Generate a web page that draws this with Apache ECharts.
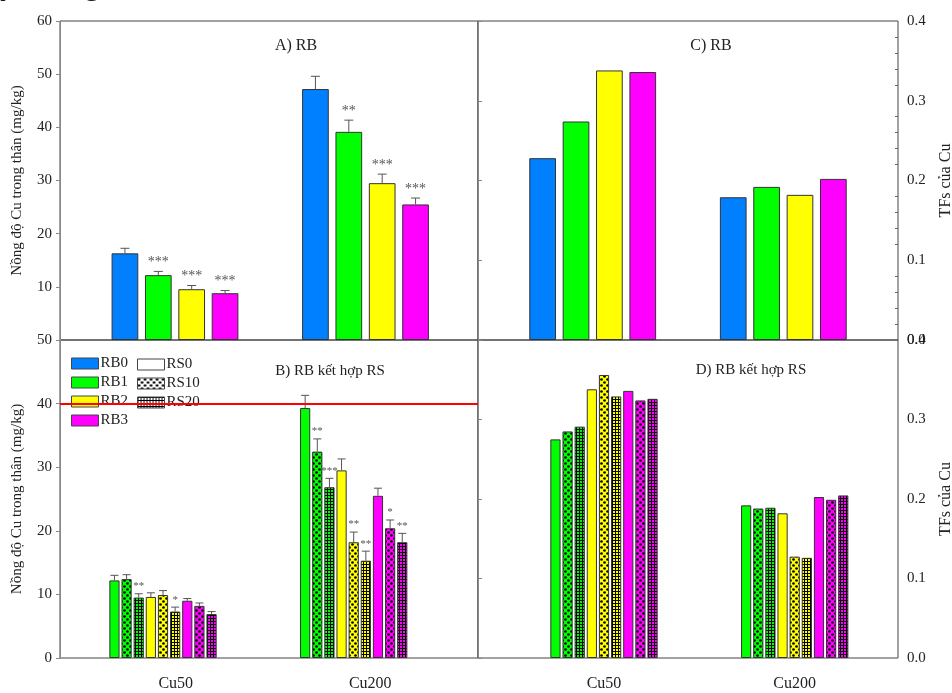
<!DOCTYPE html>
<html>
<head>
<meta charset="utf-8">
<script src="https://cdn.jsdelivr.net/npm/echarts@6/dist/echarts.min.js"></script>
<style>
  html, body { margin: 0; padding: 0; background: #fff; }
  #chart { width: 952px; height: 693px; }
</style>
</head>
<body>
<div id="chart"></div>
<script>
// ---- data ----
const groups = ['Cu50', 'Cu200'];
const rbNames = ['RB0', 'RB1', 'RB2', 'RB3'];
const rsNames = ['RS0', 'RS10', 'RS20'];

// A) Cu in shoots (mg/kg), biochar only: RB0..RB3
const aCu50 = [16.3, 12.2, 9.55, 8.8];
const aCu200 = [47.2, 39.15, 29.5, 25.5];
const aCu50Err = [0.95, 0.7, 0.7, 0.5];
const aCu200Err = [2.4, 2.2, 1.7, 1.2];
const aCu50Sig = ['', '***', '***', '***'];
const aCu200Sig = ['', '**', '***', '***'];

// B) Cu in shoots (mg/kg), RB1..RB3 x RS0/RS10/RS20
const bCu50 = [12.2, 12.4, 9.5, 9.6, 9.9, 7.3, 9.0, 8.2, 6.9];
const bCu200 = [39.3, 32.45, 26.85, 29.5, 18.2, 15.3, 25.5, 20.4, 18.2];
const bCu50Err = [0.8, 0.7, 0.6, 0.65, 0.7, 0.7, 0.35, 0.45, 0.4];
const bCu200Err = [2.0, 2.0, 1.4, 1.8, 1.6, 1.5, 1.2, 1.3, 1.4];
const bCu50Sig = ['', '', '**', '', '', '*', '', '', ''];
const bCu200Sig = ['', '**', '***', '', '**', '**', '', '*', '**'];

// C) translocation factor, biochar only
const cCu50 = [0.228, 0.274, 0.338, 0.336];
const cCu200 = [0.179, 0.192, 0.182, 0.202];

// D) translocation factor, biochar + RS
const dCu50 = [0.275, 0.285, 0.291, 0.338, 0.356, 0.329, 0.336, 0.324, 0.326];
const dCu200 = [0.192, 0.188, 0.189, 0.182, 0.1275, 0.126, 0.2025, 0.199, 0.2045];

// Reference level drawn across panel B
const refLevel = 40;

// ---- styles ----
const FONT = 'Liberation Serif';
const rbColors = ['#0080ff', '#00ff00', '#ffff00', '#ff00ff'];
const edge = '#333';

function dotPattern(base) {
  const cv = document.createElement('canvas');
  cv.width = 6; cv.height = 6;
  const g = cv.getContext('2d');
  g.fillStyle = base; g.fillRect(0, 0, 6, 6);
  g.fillStyle = '#000';
  [[1.5, 1.5], [4.5, 4.5]].forEach(function (p) {
    g.beginPath(); g.arc(p[0], p[1], 1.35, 0, Math.PI * 2); g.fill();
  });
  return { image: cv, repeat: 'repeat' };
}
function gridPattern(base) {
  const cv = document.createElement('canvas');
  cv.width = 3; cv.height = 3;
  const g = cv.getContext('2d');
  g.fillStyle = '#000'; g.fillRect(0, 0, 3, 3);
  g.fillStyle = base; g.fillRect(1, 1, 2, 2);
  return { image: cv, repeat: 'repeat' };
}
function rsFill(base, k) {
  return k === 0 ? base : (k === 1 ? dotPattern(base) : gridPattern(base));
}

// ---- layout (pixels) ----
const frames = [
  { left: 60, top: 21, width: 418, height: 319 },   // A
  { left: 478, top: 21, width: 420, height: 319 },  // C
  { left: 60, top: 340, width: 418, height: 318 },  // B
  { left: 478, top: 340, width: 420, height: 318 }  // D
];
const dataGrids = [
  { left: 79.75, top: 21, width: 381, height: 319 },    // A bars
  { left: 497.4, top: 21, width: 381.2, height: 319 },  // C bars
  { left: 67.65, top: 340, width: 381.4, height: 318 }, // B bars
  { left: 508.65, top: 340, width: 381.4, height: 318 } // D bars
];
const labelGridB = { left: 78.5, top: 340, width: 389, height: 318 };

const wideBar = 26.7, wideGap = 0.25;
const thinBar = 10.2, thinGap = 0.19;

const grid = frames.concat(dataGrids, [labelGridB]).map(function (r) {
  return Object.assign({ outerBoundsMode: 'none', containLabel: false }, r);
});
frames.forEach(function (r, i) {
  Object.assign(grid[i], { show: true, borderColor: '#444', borderWidth: 1, backgroundColor: 'transparent' });
});

const axisFont = { fontFamily: FONT, fontSize: 15, color: '#222' };
const axisGrey = { lineStyle: { color: '#888', width: 1 } };

const xAxis = grid.map(function (g, i) {
  if (i < 4) return { type: 'value', gridIndex: i, min: 0, max: 1, show: false };
  const ax = {
    type: 'category', gridIndex: i, data: groups, boundaryGap: true,
    axisLine: { show: false }, axisTick: { show: false }, splitLine: { show: false },
    axisLabel: { show: false }
  };
  if (i === 7 || i === 8) {
    ax.axisLabel = { show: true, margin: 18, fontFamily: FONT, fontSize: 16, color: '#222' };
  }
  return ax;
});

const shootName = 'Nồng độ Cu trong thân (mg/kg)';
const tfName = 'TFs của Cu';
function leftAxis(gi, max, hideZero) {
  return {
    type: 'value', gridIndex: gi, position: 'left', min: 0, max: max, interval: 10,
    axisLine: Object.assign({ show: true }, axisGrey),
    axisTick: Object.assign({ show: true, length: 4, inside: false }, axisGrey),
    splitLine: { show: false },
    axisLabel: Object.assign({ margin: 8, formatter: function (v) { return hideZero && v === 0 ? '' : String(v); } }, axisFont),
    name: shootName, nameLocation: 'middle', nameRotate: 90, nameGap: 35, nameMoveOverlap: false,
    nameTextStyle: { fontFamily: FONT, fontSize: 15, color: '#222' }
  };
}
function rightAxis(gi) {
  return {
    type: 'value', gridIndex: gi, position: 'right', min: 0, max: 0.4, interval: 0.1,
    axisLine: Object.assign({ show: true }, axisGrey),
    axisTick: Object.assign({ show: true, length: 4, inside: false }, axisGrey),
    splitLine: { show: false },
    axisLabel: Object.assign({ margin: 9, formatter: function (v) { return v.toFixed(1); } }, axisFont),
    name: tfName, nameLocation: 'middle', nameRotate: 90, nameGap: 40, nameMoveOverlap: false,
    nameTextStyle: { fontFamily: FONT, fontSize: 16, color: '#222' }
  };
}
const yAxis = [
  leftAxis(0, 60, true),
  rightAxis(1),
  leftAxis(2, 50, false),
  rightAxis(3),
  { type: 'value', gridIndex: 4, min: 0, max: 60, show: false },
  { type: 'value', gridIndex: 5, min: 0, max: 0.4, show: false },
  { type: 'value', gridIndex: 6, min: 0, max: 50, show: false },
  { type: 'value', gridIndex: 7, min: 0, max: 0.4, show: false },
  { type: 'value', gridIndex: 8, min: 0, max: 1, show: false },
  // inner minor ticks on the right axis of panel C
  {
    type: 'value', gridIndex: 1, position: 'right', min: 0, max: 0.4, interval: 0.1,
    axisLine: { show: false }, axisLabel: { show: false }, splitLine: { show: false },
    axisTick: { show: false, inside: true },
    minorTick: { show: true, splitNumber: 5, length: 3, lineStyle: { color: '#666' } }
  }
];

const series = [];
const barBorder = { borderColor: edge, borderWidth: 1 };

// Panel A bars
rbNames.forEach(function (n, i) {
  series.push({
    type: 'bar', name: n, xAxisIndex: 4, yAxisIndex: 4,
    data: [aCu50[i], aCu200[i]], barWidth: wideBar, barGap: (wideGap * 100) + '%',
    itemStyle: Object.assign({ color: rbColors[i] }, barBorder), silent: true
  });
});
// Panel C bars
rbNames.forEach(function (n, i) {
  series.push({
    type: 'bar', name: 'TF ' + n, xAxisIndex: 5, yAxisIndex: 5,
    data: [cCu50[i], cCu200[i]], barWidth: wideBar, barGap: (wideGap * 100) + '%',
    itemStyle: Object.assign({ color: rbColors[i] }, barBorder), silent: true
  });
});
// Panels B and D bars: RB1..RB3 each with RS0, RS10, RS20
for (let r = 1; r <= 3; r++) {
  for (let k = 0; k < 3; k++) {
    const idx = (r - 1) * 3 + k;
    const label = rbNames[r] + ' ' + rsNames[k];
    series.push({
      type: 'bar', name: 'Cu ' + label, xAxisIndex: 6, yAxisIndex: 6,
      data: [bCu50[idx], bCu200[idx]], barWidth: thinBar, barGap: (thinGap * 100) + '%',
      itemStyle: Object.assign({ color: rsFill(rbColors[r], k) }, barBorder), silent: true
    });
    series.push({
      type: 'bar', name: 'TF ' + label, xAxisIndex: 7, yAxisIndex: 7,
      data: [dCu50[idx], dCu200[idx]], barWidth: thinBar, barGap: (thinGap * 100) + '%',
      itemStyle: Object.assign({ color: rsFill(rbColors[r], k) }, barBorder), silent: true
    });
  }
}

// Error bars with significance marks
function errorSeries(xi, yi, means, errs, sigs, n, w, gap, capW, sigFont) {
  const data = [];
  means.forEach(function (arr, c) {
    arr.forEach(function (v, s) { data.push([c, s, v, errs[c][s]]); });
  });
  return {
    type: 'custom', xAxisIndex: xi, yAxisIndex: yi, silent: true, z: 3,
    encode: { x: 0, y: 2 },
    data: data,
    renderItem: function (params, api) {
      const c = api.value(0), s = api.value(1), top = api.value(2), e = api.value(3);
      const step = w * (1 + gap);
      const total = n * w + (n - 1) * w * gap;
      const x = api.coord([c, 0])[0] - total / 2 + s * step + w / 2;
      const y0 = api.coord([c, top])[1];
      const y1 = api.coord([c, top + e])[1];
      const st = { stroke: '#555', lineWidth: 1 };
      const kids = [
        { type: 'line', shape: { x1: x, y1: y0, x2: x, y2: y1 }, style: st },
        { type: 'line', shape: { x1: x - capW / 2, y1: y1, x2: x + capW / 2, y2: y1 }, style: st }
      ];
      const sig = sigs[c][s];
      if (sig) {
        kids.push({
          type: 'text',
          style: { text: sig, x: x, y: y1 - 2, align: 'center', verticalAlign: 'bottom',
                   fill: '#555', font: sigFont + 'px "' + FONT + '"' }
        });
      }
      return { type: 'group', children: kids };
    }
  };
}
series.push(errorSeries(4, 4, [aCu50, aCu200], [aCu50Err, aCu200Err], [aCu50Sig, aCu200Sig], 4, wideBar, wideGap, 9, 14));
series.push(errorSeries(6, 6, [bCu50, bCu200], [bCu50Err, bCu200Err], [bCu50Sig, bCu200Sig], 9, thinBar, thinGap, 8, 11));

// Legend entries for the RS treatments
rsNames.forEach(function (n, k) {
  series.push({
    type: 'bar', name: n, xAxisIndex: 2, yAxisIndex: 2, data: [],
    itemStyle: Object.assign({ color: rsFill('#ffffff', k) }, barBorder)
  });
});

// Reference line in panel B
series.push({
  type: 'line', name: 'ref', xAxisIndex: 2, yAxisIndex: 2, data: [], z: 10, silent: true,
  markLine: {
    symbol: 'none', silent: true, animation: false, label: { show: false },
    lineStyle: { color: '#ff0000', width: 2, type: 'solid' },
    data: [{ yAxis: refLevel }]
  }
});

function legendBox(names, left, top) {
  return {
    orient: 'vertical', left: left, top: top, padding: 0, itemGap: 4,
    itemWidth: 27, itemHeight: 11, icon: 'rect', selectedMode: false,
    textStyle: { fontFamily: FONT, fontSize: 15, color: '#222', padding: [0, 0, 0, -3] },
    data: names.map(function (n) {
      return { name: n, itemStyle: { borderColor: '#444', borderWidth: 1 } };
    })
  };
}

function panelTitle(text, x, top, size) {
  return {
    text: text, left: x, top: top, textAlign: 'center', padding: 0,
    textStyle: { fontFamily: FONT, fontSize: size, fontWeight: 'normal', color: '#222' }
  };
}

const chart = echarts.init(document.getElementById('chart'), null, { renderer: 'canvas' });
chart.setOption({
  animation: false,
  backgroundColor: '#fff',
  title: [
    panelTitle('A) RB', 296, 38, 16),
    panelTitle('C) RB', 711, 38, 16),
    panelTitle('B) RB kết hợp RS', 330, 364, 15),
    panelTitle('D) RB kết hợp RS', 751, 363, 15)
  ],
  legend: [legendBox(rbNames, 71, 356), legendBox(rsNames, 137, 357)],
  grid: grid,
  xAxis: xAxis,
  yAxis: yAxis,
  series: series,
  graphic: [
    { type: 'text', left: 0, top: -30, style: { text: 'y', font: '32px "' + FONT + '"', fill: '#111' } },
    { type: 'text', left: 84, top: -30, style: { text: 'g', font: '32px "' + FONT + '"', fill: '#111' } }
  ]
});
</script>
</body>
</html>
